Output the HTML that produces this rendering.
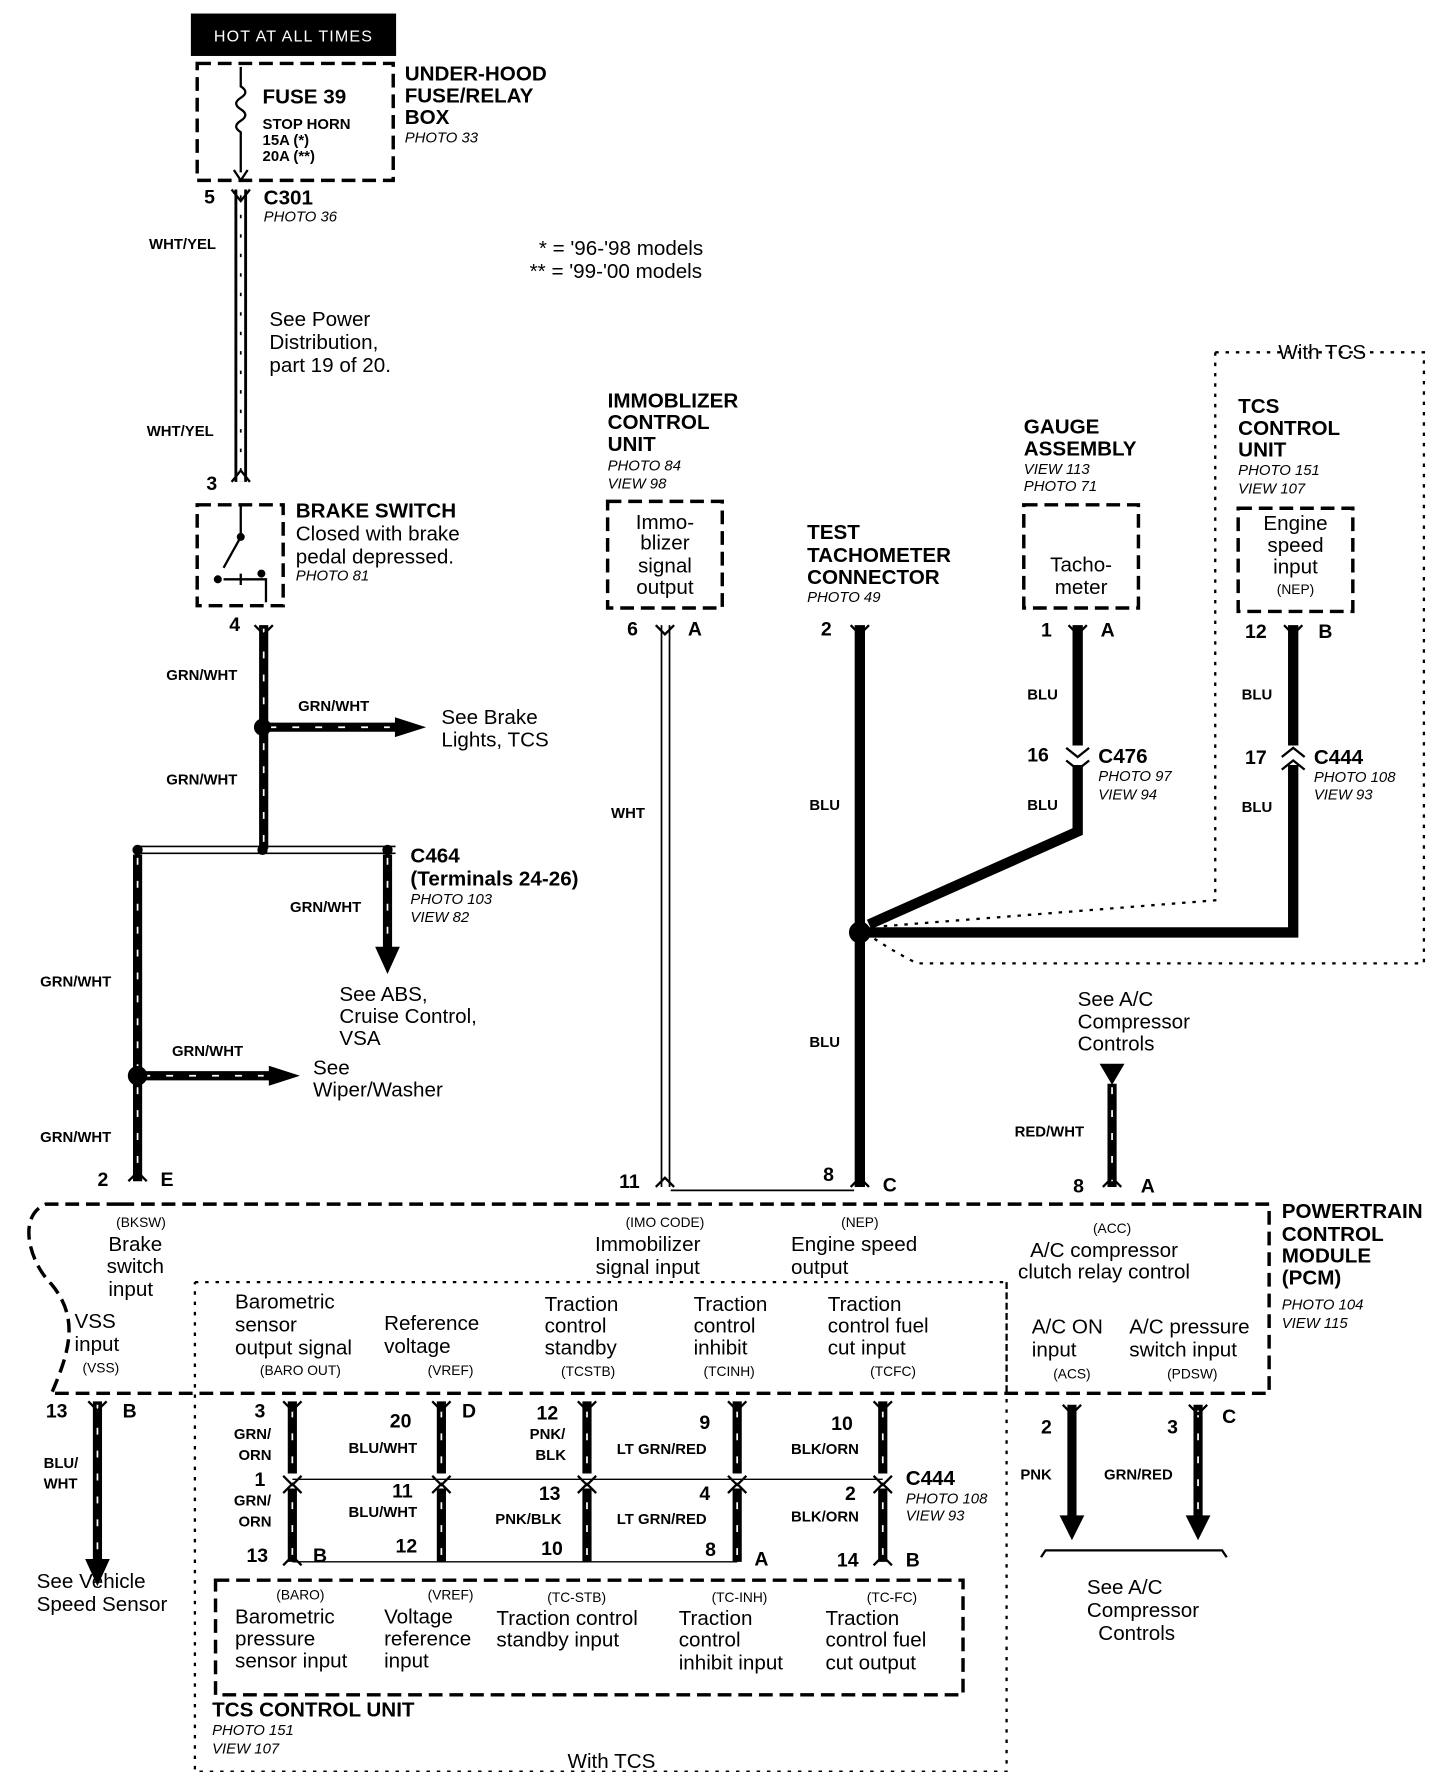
<!DOCTYPE html>
<html><head><meta charset="utf-8"><style>
html,body{margin:0;padding:0;background:#fff}
svg{display:block}
text{font-family:"Liberation Sans",sans-serif;fill:#000}
.b{font-weight:bold;font-size:18px}
.r{font-size:18px}
.i{font-style:italic;font-size:13px}
.w{font-weight:bold;font-size:13px}
.s{font-size:12px}
.n{font-weight:bold;font-size:17px}
.c{text-anchor:middle}
</style></head><body>
<svg width="1456" height="1772" viewBox="0 0 1270 1545" xmlns="http://www.w3.org/2000/svg">
<defs><marker id="ah" markerWidth="4" markerHeight="4" refX="2" refY="2" orient="auto" markerUnits="strokeWidth"><path d="M0,0 L4,2 L0,4z"/></marker></defs>
<g fill="none" stroke="#000">
<!-- fuse -->
<rect x="167" y="12" width="178" height="36" fill="#000"/>
<rect x="172" y="55" width="171" height="102" stroke-width="3" stroke-dasharray="12,6"/>
<path d="M210 58 V75 q8 5 0 10 q-8 5 0 10 q8 5 0 10 q-8 5 0 10 V150" stroke-width="2"/>
<path d="M204 148 L210 157 L216 148" stroke-width="2"/>
<!-- WHT/YEL wire -->
<path d="M210 165 V420" stroke-width="11"/><path d="M210 165 V420" stroke="#fff" stroke-width="6"/>
<path d="M210 170 V415" stroke-width="1.5" stroke-dasharray="3,14"/>
<path d="M202 165 L210 175 L218 165 M202 420 L210 410 L218 420" stroke-width="2"/>
<!-- brake switch -->
<rect x="172" y="440" width="75" height="88" stroke-width="3" stroke-dasharray="12,6"/>
<path d="M210 440 V465 M210 468 L195 495 M210 500 V510 M195 505 H232 V525" stroke-width="2"/>
<circle cx="210" cy="468" r="3" fill="#000"/><circle cx="228" cy="500" r="3" fill="#000"/><circle cx="190" cy="505" r="3" fill="#000"/>
<!-- GRN/WHT -->
<g stroke-width="8"><path d="M230 545 V740"/><path d="M120 745 V1030"/><path d="M338 745 V830"/><path d="M230 634 H345"/><path d="M120 938 H235"/></g>
<g stroke="#fff" stroke-width="1.5" stroke-dasharray="6,14"><path d="M230 548 V738"/><path d="M120 748 V1028"/><path d="M338 748 V828"/><path d="M235 634 H340"/><path d="M125 938 H230"/></g>
<path d="M222 545 L230 553 L238 545 M112 1030 L120 1022 L128 1030" stroke-width="2"/>
<path d="M345 626 L370 634 L345 642z M235 930 L260 938 L235 946z M328 826 L338 848 L348 826z" fill="#000"/>
<path d="M118 738 H345 M118 744 H345" stroke-width="1.5"/>
<!-- immobilizer -->
<rect x="530" y="437" width="100" height="93" stroke-width="3" stroke-dasharray="12,6"/>
<path d="M577 545 V1035 M584 545 V1035" stroke-width="1.5"/>
<path d="M572 545 L580 553 L588 545 M572 1035 L580 1027 L588 1035" stroke-width="2"/>
<path d="M585 1038 H745" stroke-width="1.5"/>
<!-- tach -->
<path d="M750 545 V1035" stroke-width="9"/>
<path d="M742 545 L750 553 L758 545 M742 1035 L750 1027 L758 1035" stroke-width="2"/>
<rect x="893" y="440" width="100" height="90" stroke-width="3" stroke-dasharray="12,6"/>
<path d="M940 545 V650 M940 667 V725 L758 806" stroke-width="9"/>
<path d="M932 545 L940 553 L948 545 M930 652 L940 660 L950 652 M930 663 L940 671 L950 663" stroke-width="2"/>
<rect x="1080" y="443" width="100" height="90" stroke-width="3" stroke-dasharray="12,6"/>
<path d="M1128 545 V650 M1128 667 V813 H758" stroke-width="9"/>
<path d="M1120 545 L1128 553 L1136 545 M1118 660 L1128 652 L1138 660 M1118 671 L1128 663 L1138 671" stroke-width="2"/>
<circle cx="750" cy="813" r="9" fill="#000"/>
<path d="M1060 307 H1242 V840 H800 Q780 830 762 818 M1060 307 V785 L765 808" stroke-width="2" stroke-dasharray="3,6"/>
<!-- A/C -->
<path d="M960 928 H980 L970 945z" fill="#000"/>
<path d="M970 945 V1035" stroke-width="8"/><path d="M970 948 V1030" stroke="#fff" stroke-width="1.5" stroke-dasharray="6,14"/>
<path d="M962 1035 L970 1027 L978 1035" stroke-width="2"/>
<!-- PCM -->
<path d="M105 1050 H1107 V1215 H45 M105 1050 H40 C15 1060 25 1100 45 1120 C70 1150 60 1180 45 1215" stroke-width="3" stroke-dasharray="12,6"/>
<path d="M170 1118 H878 V1545 H170 V1118 M878 1118 V1215" stroke-width="2" stroke-dasharray="3,6"/>
<!-- bottom wires -->
<path d="M85 1222 V1365" stroke-width="8"/><path d="M85 1225 V1362" stroke="#fff" stroke-width="1.5" stroke-dasharray="6,14"/>
<path d="M75 1360 L85 1382 L95 1360z" fill="#000"/>
<path d="M77 1222 L85 1230 L93 1222" stroke-width="2"/>
<g stroke-width="8"><path d="M255 1222 V1285 M255 1298 V1362 M385 1222 V1285 M385 1298 V1362 M512 1222 V1285 M512 1298 V1362 M643 1222 V1285 M643 1298 V1362 M770 1222 V1285 M770 1298 V1362 M935 1225 V1325 M1045 1225 V1325"/></g>
<g stroke="#fff" stroke-width="1.5" stroke-dasharray="6,14"><path d="M255 1230 V1360 M385 1230 V1360 M512 1230 V1360 M643 1230 V1360 M770 1230 V1360 M1045 1230 V1322"/></g>
<g stroke-width="2"><path d="M247 1222 L255 1230 L263 1222 M377 1222 L385 1230 L393 1222 M504 1222 L512 1230 L520 1222 M635 1222 L643 1230 L651 1222 M762 1222 L770 1230 L778 1222 M927 1225 L935 1233 L943 1225 M1037 1225 L1045 1233 L1053 1225"/>
<path d="M247 1287 L255 1295 L263 1287 M377 1287 L385 1295 L393 1287 M504 1287 L512 1295 L520 1287 M635 1287 L643 1295 L651 1287 M762 1287 L770 1295 L778 1287"/>
<path d="M247 1302 L255 1294 L263 1302 M377 1302 L385 1294 L393 1302 M504 1302 L512 1294 L520 1302 M635 1302 L643 1294 L651 1302 M762 1302 L770 1294 L778 1302"/>
<path d="M247 1365 L255 1357 L263 1365 M762 1365 L770 1357 L778 1365"/></g>
<path d="M255 1290 H770 M255 1362 H643" stroke-width="1.2"/>
<path d="M925 1322 L935 1342 L945 1322z M1035 1322 L1045 1342 L1055 1322z" fill="#000"/>
<path d="M908 1358 L912 1352 H1066 L1070 1358" stroke-width="2"/>
<rect x="188" y="1378" width="652" height="100" stroke-width="3" stroke-dasharray="12,6"/>
<circle cx="229" cy="634" r="7" fill="#000"/><circle cx="120" cy="938" r="8" fill="#000"/>
<circle cx="229" cy="741" r="4" fill="#000"/><circle cx="120" cy="741" r="4" fill="#000"/><circle cx="338" cy="741" r="4" fill="#000"/>
</g>
<text x="256" y="36" class="c" style="fill:#fff;font-size:14px;letter-spacing:1px">HOT AT ALL TIMES</text>
<text x="229" y="90" class="b">FUSE 39</text><text x="229" y="112" class="w">STOP HORN</text><text x="229" y="126" class="w">15A (*)</text><text x="229" y="140" class="w">20A (**)</text>
<text x="353" y="70" class="b">UNDER-HOOD</text><text x="353" y="89" class="b">FUSE/RELAY</text><text x="353" y="108" class="b">BOX</text><text x="353" y="124" class="i">PHOTO 33</text>
<text x="178" y="177" class="n">5</text><text x="230" y="178" class="b">C301</text><text x="230" y="193" class="i">PHOTO 36</text>
<text x="130" y="217" class="w">WHT/YEL</text><text x="128" y="380" class="w">WHT/YEL</text>
<text x="235" y="284" class="r">See Power</text><text x="235" y="304" class="r">Distribution,</text><text x="235" y="324" class="r">part 19 of 20.</text>
<text x="470" y="222" class="r">* = '96-'98 models</text><text x="462" y="242" class="r">** = '99-'00 models</text>
<text x="180" y="427" class="n">3</text>
<text x="258" y="451" class="b">BRAKE SWITCH</text><text x="258" y="471" class="r">Closed with brake</text><text x="258" y="491" class="r">pedal depressed.</text><text x="258" y="506" class="i">PHOTO 81</text>
<text x="200" y="550" class="n">4</text>
<text x="145" y="593" class="w">GRN/WHT</text><text x="260" y="620" class="w">GRN/WHT</text><text x="145" y="684" class="w">GRN/WHT</text>
<text x="385" y="631" class="r">See Brake</text><text x="385" y="651" class="r">Lights, TCS</text>
<text x="358" y="752" class="b">C464</text><text x="358" y="772" class="b">(Terminals 24-26)</text><text x="358" y="788" class="i">PHOTO 103</text><text x="358" y="804" class="i">VIEW 82</text>
<text x="253" y="795" class="w">GRN/WHT</text>
<text x="296" y="873" class="r">See ABS,</text><text x="296" y="892" class="r">Cruise Control,</text><text x="296" y="911" class="r">VSA</text>
<text x="35" y="860" class="w">GRN/WHT</text><text x="150" y="921" class="w">GRN/WHT</text><text x="35" y="996" class="w">GRN/WHT</text>
<text x="273" y="937" class="r">See</text><text x="273" y="956" class="r">Wiper/Washer</text>
<text x="85" y="1034" class="n">2</text><text x="140" y="1034" class="n">E</text>
<text x="530" y="355" class="b">IMMOBLIZER</text><text x="530" y="374" class="b">CONTROL</text><text x="530" y="393" class="b">UNIT</text><text x="530" y="410" class="i">PHOTO 84</text><text x="530" y="426" class="i">VIEW 98</text>
<text x="580" y="461" class="r c">Immo-</text><text x="580" y="479" class="r c">blizer</text><text x="580" y="499" class="r c">signal</text><text x="580" y="518" class="r c">output</text>
<text x="547" y="554" class="n">6</text><text x="600" y="554" class="n">A</text><text x="533" y="713" class="w">WHT</text><text x="540" y="1036" class="n">11</text>
<text x="704" y="470" class="b">TEST</text><text x="704" y="490" class="b">TACHOMETER</text><text x="704" y="509" class="b">CONNECTOR</text><text x="704" y="525" class="i">PHOTO 49</text>
<text x="716" y="554" class="n">2</text><text x="706" y="706" class="w">BLU</text><text x="706" y="913" class="w">BLU</text><text x="718" y="1030" class="n">8</text><text x="770" y="1039" class="n">C</text>
<text x="893" y="378" class="b">GAUGE</text><text x="893" y="397" class="b">ASSEMBLY</text><text x="893" y="413" class="i">VIEW 113</text><text x="893" y="428" class="i">PHOTO 71</text>
<text x="943" y="498" class="r c">Tacho-</text><text x="943" y="518" class="r c">meter</text>
<text x="908" y="555" class="n">1</text><text x="960" y="555" class="n">A</text><text x="896" y="610" class="w">BLU</text><text x="896" y="664" class="n">16</text>
<text x="958" y="665" class="b">C476</text><text x="958" y="681" class="i">PHOTO 97</text><text x="958" y="697" class="i">VIEW 94</text><text x="896" y="706" class="w">BLU</text>
<text x="1115" y="313" class="r">With TCS</text>
<text x="1080" y="360" class="b">TCS</text><text x="1080" y="379" class="b">CONTROL</text><text x="1080" y="398" class="b">UNIT</text><text x="1080" y="414" class="i">PHOTO 151</text><text x="1080" y="430" class="i">VIEW 107</text>
<text x="1130" y="462" class="r c">Engine</text><text x="1130" y="481" class="r c">speed</text><text x="1130" y="500" class="r c">input</text><text x="1130" y="518" class="s c">(NEP)</text>
<text x="1086" y="556" class="n">12</text><text x="1150" y="556" class="n">B</text><text x="1083" y="610" class="w">BLU</text><text x="1086" y="666" class="n">17</text>
<text x="1146" y="666" class="b">C444</text><text x="1146" y="682" class="i">PHOTO 108</text><text x="1146" y="697" class="i">VIEW 93</text><text x="1083" y="708" class="w">BLU</text>
<text x="940" y="877" class="r">See A/C</text><text x="940" y="897" class="r">Compressor</text><text x="940" y="916" class="r">Controls</text>
<text x="885" y="991" class="w">RED/WHT</text><text x="936" y="1040" class="n">8</text><text x="995" y="1040" class="n">A</text>
<text x="1118" y="1062" class="b">POWERTRAIN</text><text x="1118" y="1082" class="b">CONTROL</text><text x="1118" y="1101" class="b">MODULE</text><text x="1118" y="1120" class="b">(PCM)</text><text x="1118" y="1142" class="i">PHOTO 104</text><text x="1118" y="1158" class="i">VIEW 115</text>
<text x="123" y="1070" class="s c">(BKSW)</text><text x="118" y="1091" class="r c">Brake</text><text x="118" y="1110" class="r c">switch</text><text x="114" y="1130" class="r c">input</text>
<text x="65" y="1158" class="r">VSS</text><text x="65" y="1178" class="r">input</text><text x="72" y="1197" class="s">(VSS)</text>
<text x="580" y="1070" class="s c">(IMO CODE)</text><text x="565" y="1091" class="r c">Immobilizer</text><text x="565" y="1111" class="r c">signal input</text>
<text x="750" y="1070" class="s c">(NEP)</text><text x="745" y="1091" class="r c">Engine speed</text><text x="715" y="1111" class="r c">output</text>
<text x="970" y="1075" class="s c">(ACC)</text><text x="963" y="1096" class="r c">A/C compressor</text><text x="963" y="1115" class="r c">clutch relay control</text>
<text x="205" y="1141" class="r">Barometric</text><text x="205" y="1161" class="r">sensor</text><text x="205" y="1181" class="r">output signal</text><text x="262" y="1199" class="s c">(BARO OUT)</text>
<text x="335" y="1160" class="r">Reference</text><text x="335" y="1180" class="r">voltage</text><text x="393" y="1199" class="s c">(VREF)</text>
<text x="475" y="1143" class="r">Traction</text><text x="475" y="1162" class="r">control</text><text x="475" y="1181" class="r">standby</text><text x="513" y="1200" class="s c">(TCSTB)</text>
<text x="605" y="1143" class="r">Traction</text><text x="605" y="1162" class="r">control</text><text x="605" y="1181" class="r">inhibit</text><text x="636" y="1200" class="s c">(TCINH)</text>
<text x="722" y="1143" class="r">Traction</text><text x="722" y="1162" class="r">control fuel</text><text x="722" y="1181" class="r">cut input</text><text x="779" y="1200" class="s c">(TCFC)</text>
<text x="900" y="1163" class="r">A/C ON</text><text x="900" y="1183" class="r">input</text><text x="935" y="1202" class="s c">(ACS)</text>
<text x="985" y="1163" class="r">A/C pressure</text><text x="985" y="1183" class="r">switch input</text><text x="1040" y="1202" class="s c">(PDSW)</text>
<text x="40" y="1236" class="n">13</text><text x="107" y="1236" class="n">B</text><text x="38" y="1280" class="w">BLU/</text><text x="38" y="1298" class="w">WHT</text>
<text x="32" y="1385" class="r">See Vehicle</text><text x="32" y="1405" class="r">Speed Sensor</text>
<text x="222" y="1236" class="n">3</text><text x="340" y="1245" class="n">20</text><text x="403" y="1236" class="n">D</text><text x="468" y="1238" class="n">12</text><text x="610" y="1246" class="n">9</text><text x="725" y="1247" class="n">10</text>
<text x="222" y="1296" class="n">1</text><text x="342" y="1306" class="n">11</text><text x="470" y="1308" class="n">13</text><text x="610" y="1308" class="n">4</text><text x="737" y="1308" class="n">2</text>
<text x="215" y="1362" class="n">13</text><text x="273" y="1362" class="n">B</text><text x="345" y="1354" class="n">12</text><text x="472" y="1356" class="n">10</text><text x="615" y="1357" class="n">8</text><text x="658" y="1365" class="n">A</text><text x="730" y="1366" class="n">14</text><text x="790" y="1366" class="n">B</text>
<text x="204" y="1255" class="w">GRN/</text><text x="208" y="1273" class="w">ORN</text><text x="204" y="1313" class="w">GRN/</text><text x="208" y="1331" class="w">ORN</text>
<text x="304" y="1267" class="w">BLU/WHT</text><text x="304" y="1323" class="w">BLU/WHT</text>
<text x="462" y="1255" class="w">PNK/</text><text x="467" y="1273" class="w">BLK</text><text x="432" y="1329" class="w">PNK/BLK</text>
<text x="538" y="1268" class="w">LT GRN/RED</text><text x="538" y="1329" class="w">LT GRN/RED</text>
<text x="690" y="1268" class="w">BLK/ORN</text><text x="690" y="1327" class="w">BLK/ORN</text>
<text x="790" y="1295" class="b">C444</text><text x="790" y="1311" class="i">PHOTO 108</text><text x="790" y="1326" class="i">VIEW 93</text>
<text x="908" y="1250" class="n">2</text><text x="1018" y="1250" class="n">3</text><text x="1066" y="1241" class="n">C</text>
<text x="890" y="1290" class="w">PNK</text><text x="963" y="1290" class="w">GRN/RED</text>
<text x="948" y="1390" class="r">See A/C</text><text x="948" y="1410" class="r">Compressor</text><text x="958" y="1430" class="r">Controls</text>
<text x="262" y="1395" class="s c">(BARO)</text><text x="205" y="1416" class="r">Barometric</text><text x="205" y="1435" class="r">pressure</text><text x="205" y="1454" class="r">sensor input</text>
<text x="393" y="1395" class="s c">(VREF)</text><text x="335" y="1416" class="r">Voltage</text><text x="335" y="1435" class="r">reference</text><text x="335" y="1454" class="r">input</text>
<text x="503" y="1397" class="s c">(TC-STB)</text><text x="433" y="1417" class="r">Traction control</text><text x="433" y="1436" class="r">standby input</text>
<text x="645" y="1397" class="s c">(TC-INH)</text><text x="592" y="1417" class="r">Traction</text><text x="592" y="1436" class="r">control</text><text x="592" y="1456" class="r">inhibit input</text>
<text x="778" y="1397" class="s c">(TC-FC)</text><text x="720" y="1417" class="r">Traction</text><text x="720" y="1436" class="r">control fuel</text><text x="720" y="1456" class="r">cut output</text>
<text x="185" y="1497" class="b">TCS CONTROL UNIT</text><text x="185" y="1513" class="i">PHOTO 151</text><text x="185" y="1529" class="i">VIEW 107</text>
<text x="495" y="1542" class="r">With TCS</text>
</svg>
</body></html>
